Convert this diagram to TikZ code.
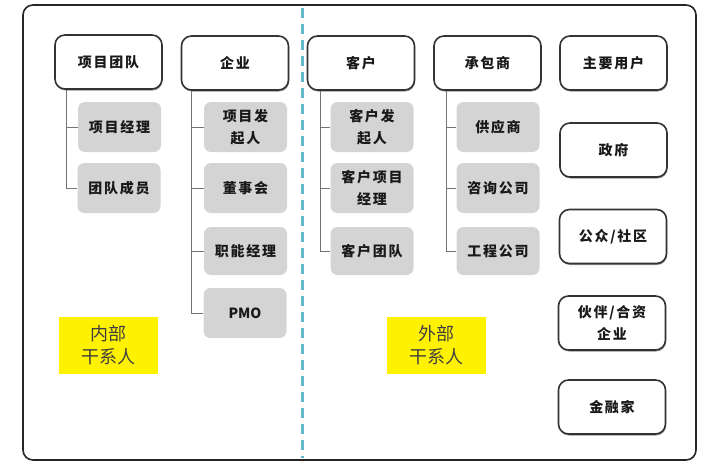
\documentclass[tikz,border=0pt]{standalone}
\usepackage{fontspec}
\setmainfont{Noto Sans CJK SC}
\usetikzlibrary{calc,shadows}
\begin{document}
\begin{tikzpicture}[x=1pt,y=-1pt,
 head/.style={draw=black!80, line width=1.6pt, fill=white, rounded corners=10pt,
   minimum width=107pt, minimum height=54pt, inner sep=0pt, align=center,
   text=black!90, font=\bfseries\fontsize{14}{22}\selectfont\addfontfeatures{LetterSpace=12},
   drop shadow={shadow xshift=0.6pt, shadow yshift=-1.5pt, fill=black!60, opacity=0.7}},
 sub/.style={fill=black!17, rounded corners=7pt, minimum width=83pt, minimum height=50pt,
   inner sep=0pt, align=center, text=black!90,
   font=\bfseries\fontsize{14}{22}\selectfont\addfontfeatures{LetterSpace=12}},
 conn/.style={draw=black!55, line width=0.9pt},
 tag/.style={fill=yellow, minimum width=99pt, minimum height=57pt, inner sep=0pt,
   align=center, text=black!75, font=\fontsize{18}{23}\selectfont},
 frame/.style={draw=black!85, line width=1.6pt, rounded corners=10pt},
 divider/.style={draw={rgb,255:red,100;green,185;blue,205}, line width=3pt,
   dash pattern=on 10pt off 6pt}
]
\useasboundingbox (0,0) rectangle (717,463);
\draw[frame] (23,5) rectangle (696,460);
\coordinate (dtop) at (302,8);
\coordinate (dbot) at (302,458);
\draw[divider] (dtop) -- (dbot);

% headers
\node[head] (h1) at (108.5,62) {项目团队};
\node[head] (h2) at (235,63) {企业};
\node[head] (h3) at (361,63) {客户};
\node[head] (h4) at (487.5,63) {承包商};
\node[head] (h5) at (613.5,63) {主要用户};
\node[head] (h6) at (613.5,150) {政府};
\node[head] (h7) at (613,236.5) {公众/社区};
\node[head] (h8) at (612,323) {伙伴/合资\\企业};
\node[head] (h9) at (612,407) {金融家};

% sub boxes
\node[sub] (s11) at (119.5,127) {项目经理};
\node[sub] (s12) at (119,188) {团队成员};
\node[sub] (s21) at (245.5,127) {项目发\\起人};
\node[sub] (s22) at (245.5,188) {董事会};
\node[sub, minimum height=48pt] (s23) at (245.5,251) {职能经理};
\node[sub, font=\bfseries\fontsize{14}{22}\selectfont] (s24) at (245,313) {PMO};
\node[sub] (s31) at (372,127) {客户发\\起人};
\node[sub] (s32) at (372,188) {客户项目\\经理};
\node[sub, minimum height=48pt] (s33) at (372,251) {客户团队};
\node[sub] (s41) at (498,127) {供应商};
\node[sub] (s42) at (498,188) {咨询公司};
\node[sub, minimum height=48pt] (s43) at (498,251) {工程公司};

% connectors
\draw[conn] ($(h1.south west)+(12,0)$) |- (s11.west);
\draw[conn] ($(h1.south west)+(12,0)$) |- (s12.west);
\draw[conn] ($(h2.south west)+(11,0)$) |- (s21.west);
\draw[conn] ($(h2.south west)+(11,0)$) |- (s22.west);
\draw[conn] ($(h2.south west)+(11,0)$) |- (s23.west);
\draw[conn] ($(h2.south west)+(11,0)$) |- (s24.west);
\draw[conn] ($(h3.south west)+(14,0)$) |- (s31.west);
\draw[conn] ($(h3.south west)+(14,0)$) |- (s32.west);
\draw[conn] ($(h3.south west)+(14,0)$) |- (s33.west);
\draw[conn] ($(h4.south west)+(13,0)$) |- (s41.west);
\draw[conn] ($(h4.south west)+(13,0)$) |- (s42.west);
\draw[conn] ($(h4.south west)+(13,0)$) |- (s43.west);

% tags
\node[tag] (t1) at (108.5,345.5) {内部\\干系人};
\node[tag] (t2) at (436.5,345.5) {外部\\干系人};
\end{tikzpicture}
\end{document}
